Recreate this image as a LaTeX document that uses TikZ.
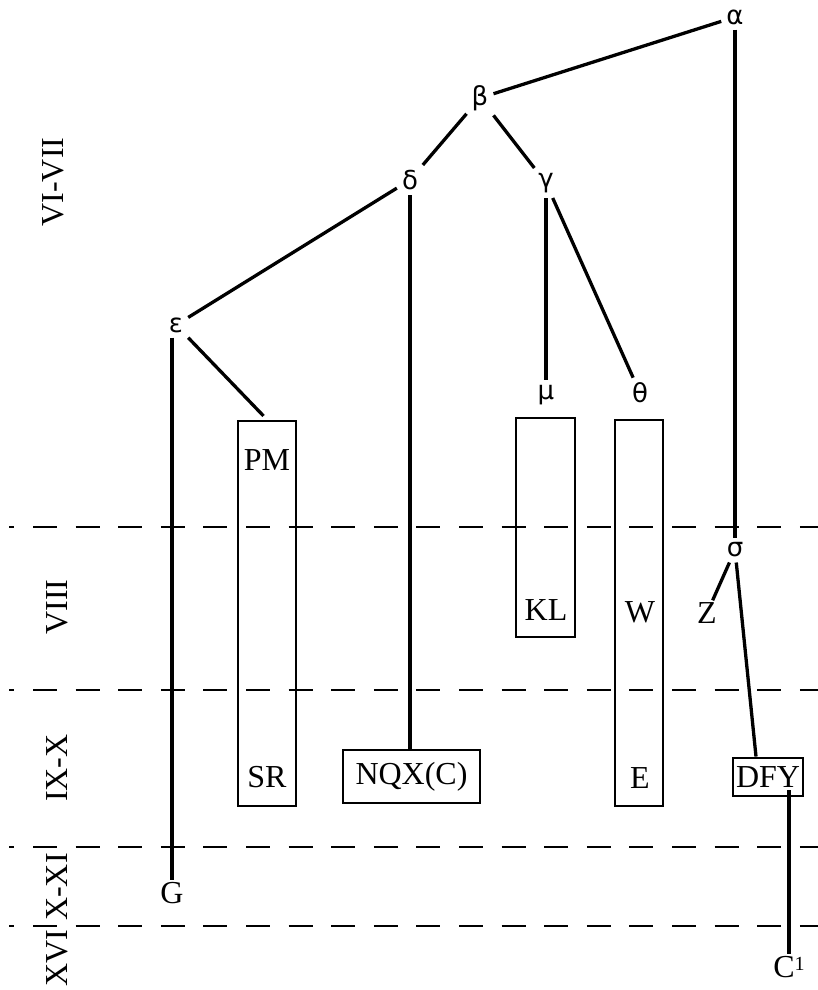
\documentclass[tikz,border=0pt]{standalone}
\usepackage{fontspec}
\setmainfont{Liberation Serif}
\newfontfamily\gr{DejaVu Sans}
\begin{document}
\begin{tikzpicture}[x=1pt,y=-1pt,
  edge/.style={line width=3.3pt},
  gk/.style={font=\gr\fontsize{26}{26}\selectfont, inner sep=5pt},
  lt/.style={font=\fontsize{32}{32}\selectfont, inner sep=2pt},
  bx/.style={draw, line width=2.9pt, inner sep=0pt},
  per/.style={font=\fontsize{32}{32}\selectfont, rotate=90, inner sep=0pt},
  sep/.style={line width=2.8pt, dash pattern=on 24pt off 18.6pt, dash phase=18.6pt}]
\useasboundingbox (0,0) rectangle (818,990);

% period separators
\foreach \yy in {527,690,847,926} \draw[sep] (9,\yy) -- (830,\yy);

% period labels
\node[per] (p1) at (53,182) {VI-VII};
\node[per] (p2) at (57,607) {VIII};
\node[per] (p3) at (57,768) {IX-X};
\node[per] (p4) at (57,887) {X-XI};
\node[per] (p5) at (57,958) {XVI};

% greek nodes
\node[gk] (alpha) at (735,17) {α};
\node[gk] (beta)  at (480,98) {β};
\node[gk] (delta) at (410,180) {δ};
\node[gk] (gamma) at (546,183) {γ};
\node[gk] (eps)   at (176,325) {ε};
\node[gk] (mu)    at (546,395) {μ};
\node[gk] (theta) at (640,393) {θ};
\node[gk] (sigma) at (735,550) {σ};

% boxes
\node[bx, minimum width=58pt, minimum height=385pt] (pmbox) at (267,613.5) {};
\node[lt] (pm) at (267,460) {PM};
\node[lt] (sr) at (267,777) {SR};
\node[bx, minimum width=59pt, minimum height=219pt] (klbox) at (545.5,527.5) {};
\node[lt] (kl) at (546,610) {KL};
\node[bx, minimum width=48pt, minimum height=386pt] (webox) at (639,613) {};
\node[lt] (w) at (640,612) {W};
\node[lt] (e) at (640,778) {E};
\node[bx, lt, minimum width=137pt, minimum height=53pt] (nqx) at (411.5,776.5) {NQX(C)};
\node[bx, lt, minimum width=70pt, minimum height=38pt] (dfy) at (768,777) {DFY};

% leaves
\node[lt] (g) at (172,893) {G};
\node[lt] (z) at (707,613) {Z};
\node[lt] (c1) at (789,967) {C{\fontsize{20}{20}\selectfont\raisebox{7pt}{1}}};

% edges
\draw[edge] (beta) -- (alpha);
\draw[edge] (alpha) -- (sigma);
\draw[edge] (beta) -- (delta);
\draw[edge] (beta) -- (gamma);
\draw[edge] (delta) -- (eps);
\draw[edge] (delta) -- (delta |- nqx.north);
\draw[edge] (gamma) -- (mu);
\draw[edge] (gamma) -- (theta);
\draw[edge] (g.north |- eps.south) -- (g);
\draw[edge, shorten >=5pt] (eps) -- (pmbox.north);
\draw[edge] (sigma) -- (z);
\draw[edge] (sigma) -- ([xshift=-12pt]dfy.north);
\draw[edge] ([yshift=-13pt]c1.north |- dfy.center) -- (c1.north);
\end{tikzpicture}
\end{document}
